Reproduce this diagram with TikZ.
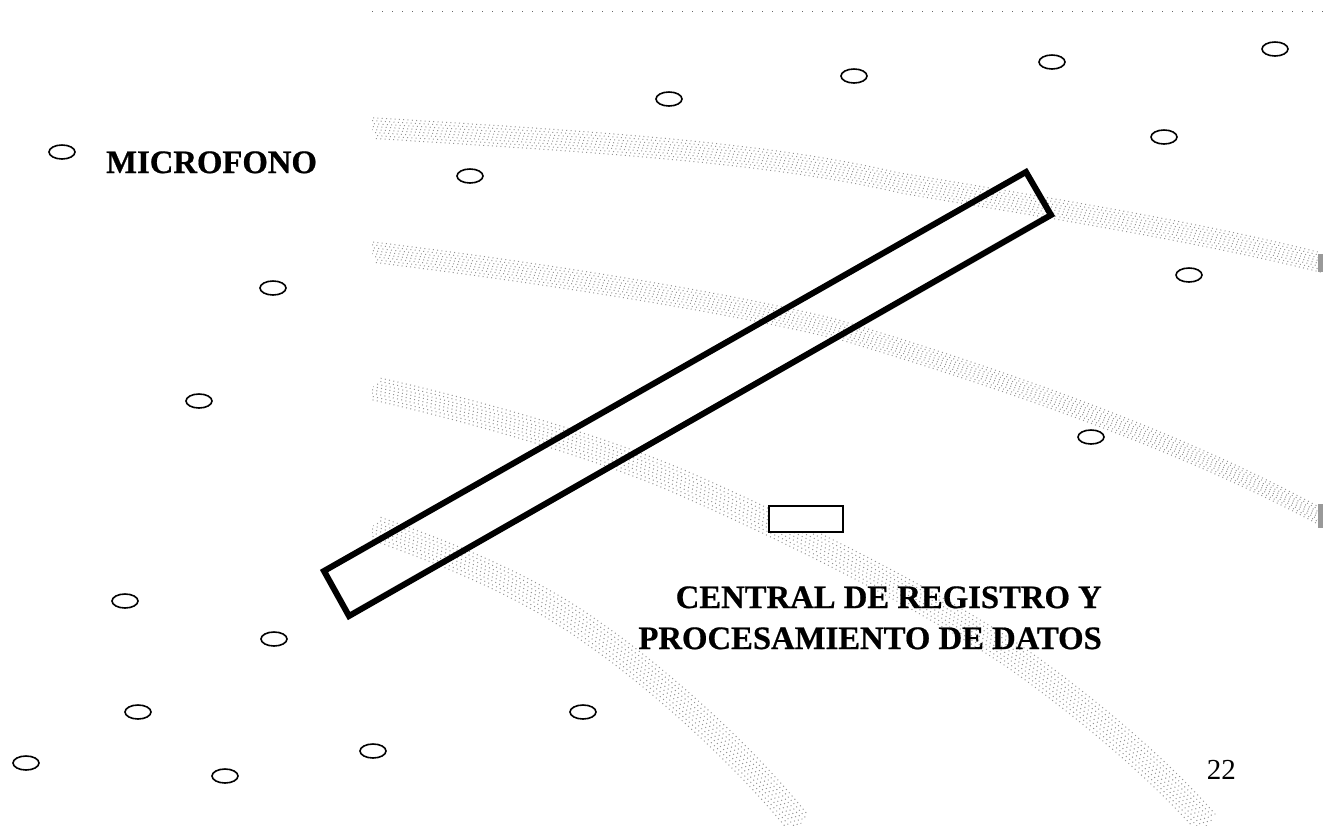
\documentclass[tikz,border=0pt]{standalone}
\usepackage{fontspec}
\setmainfont[BoldFeatures={FakeBold=0.6}]{Liberation Serif}
\usetikzlibrary{shapes.geometric}
\tikzset{
  mic/.style={ellipse,draw=black,line width=1.6pt,fill=white,minimum width=26pt,minimum height=14pt,inner sep=0pt,outer sep=0pt},
  stip/.style={draw=black!42,line width=1pt,dash pattern=on 1pt off 3.3pt},
  label/.style={font=\fontsize{32.7}{36}\selectfont\bfseries,inner sep=0pt},
}
\newcommand{\bandA}{(372,128) .. controls (560,140) and (760,150) .. (900,183) .. controls (1050,208) and (1200,232) .. (1323,263)}
\newcommand{\bandB}{(372,252) .. controls (520,270) and (720,300) .. (840,330) .. controls (1000,378) and (1180,440) .. (1323,518)}
\newcommand{\bandC}{(372,388) .. controls (480,412) and (610,450) .. (692,487) .. controls (800,535) and (930,600) .. (1015,657) .. controls (1090,710) and (1160,770) .. (1208,825)}
\newcommand{\bandD}{(372,527) .. controls (430,548) and (520,580) .. (593,633) .. controls (650,672) and (740,750) .. (800,825)}
\begin{document}
\begin{tikzpicture}[x=1pt,y=-1pt]
\useasboundingbox (0,0) rectangle (1323,825);
\begin{scope}
\clip (372,0) rectangle (1323,825);
\foreach \d/\p in {-10.5/0,-7.5/2,-4.5/1,-1.5/3,1.5/0.5,4.5/2.5,7.5/1.5,10.5/3.5}{
  \draw[stip,dash phase=\p pt,shift={(0.3*\d,\d)}] \bandA;
  \draw[stip,dash phase=\p pt,shift={(0.3*\d,\d)}] \bandB;
  \draw[stip,dash phase=\p pt,shift={(0.75*\d,-0.95*\d)}] \bandC;
  \draw[stip,dash phase=\p pt,shift={(0.75*\d,-0.95*\d)}] \bandD;
}
\end{scope}
\draw[black!60,line width=0.8pt,dash pattern=on 1pt off 9pt] (372,11) -- (1323,11);
\fill[black!40] (1318,254) rectangle (1323,272);
\fill[black!40] (1318,504) rectangle (1323,528);
\foreach \n/\x/\y in {a/62/152,b/669/99,c/854/76,d/1052/62,e/1275/49,f/1164/137,g/470/176,h/273/288,i/1189/275,j/199/401,k/1091/437,l/125/601,m/274/639,n/138/712,o/583/712,p/373/751,q/26/763,r/225/776}{
  \node[mic] (mic\n) at (\x,\y) {};
}
\coordinate (r1) at (1026,172);
\coordinate (r2) at (1051,215);
\coordinate (r3) at (349,616);
\coordinate (r4) at (324,571);
\draw[line width=6pt,miter limit=10] (r1) -- (r2) -- (r3) -- (r4) -- cycle;
\node[draw=black,line width=1.8pt,fill=white,minimum width=74pt,minimum height=26pt,inner sep=0pt] (central) at (806,519) {};
\node[label,anchor=base west] (microfono) at (106,173) {MICROFONO};
\node[label,anchor=base east] (linea1) at (1102,608) {CENTRAL DE REGISTRO Y};
\node[label,anchor=base east] (linea2) at (1102,649) {PROCESAMIENTO DE DATOS};
\node[font=\fontsize{29}{32}\selectfont,inner sep=0pt,anchor=base east] (pagina) at (1236,779) {22};
\end{tikzpicture}
\end{document}
